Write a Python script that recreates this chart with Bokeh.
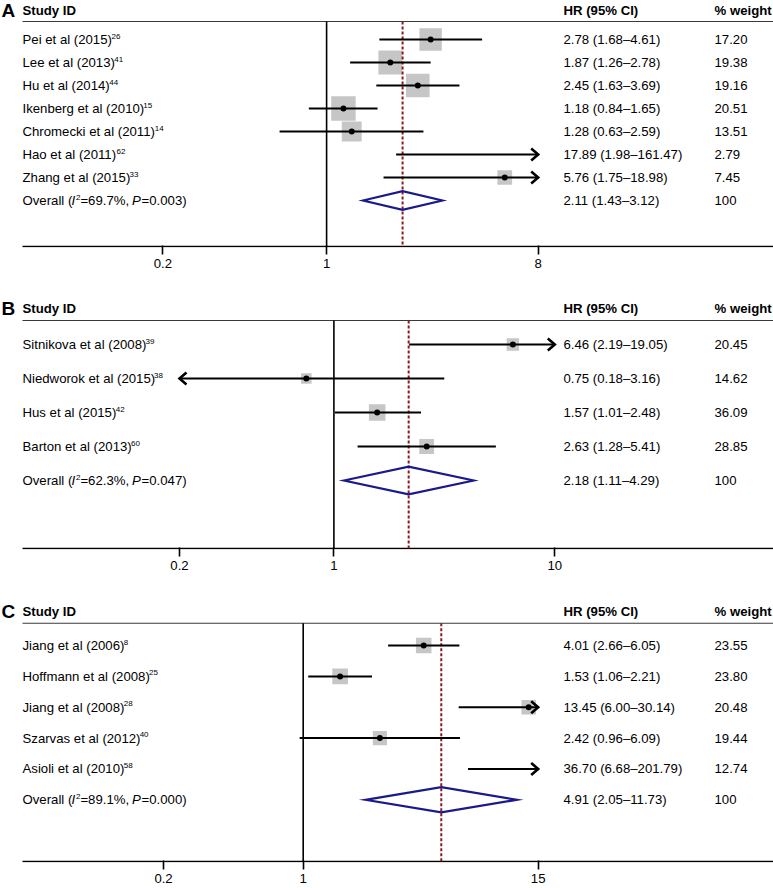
import math
from bokeh.plotting import figure
from bokeh.models import Range1d, FixedTicker, CustomJSTickFormatter
from bokeh.layouts import column
from bokeh.embed import file_html
from bokeh.resources import INLINE
from bokeh.core.properties import value

# ---------------- data ----------------
studies_a = ["Pei et al (2015)", "Lee et al (2013)", "Hu et al (2014)", "Ikenberg et al (2010)",
             "Chromecki et al (2011)", "Hao et al (2011)", "Zhang et al (2015)"]
refs_a = ["26", "41", "44", "15", "14", "62", "33"]
hr_a = [2.78, 1.87, 2.45, 1.18, 1.28, 17.89, 5.76]
lo_a = [1.68, 1.26, 1.63, 0.84, 0.63, 1.98, 1.75]
hi_a = [4.61, 2.78, 3.69, 1.65, 2.59, 161.47, 18.98]
weight_a = [17.20, 19.38, 19.16, 20.51, 13.51, 2.79, 7.45]
overall_a = [2.11, 1.43, 3.12]
i2_a, p_a = "69.7%", "0.003"
ticks_a = [0.2, 1, 8]

studies_b = ["Sitnikova  et al (2008)", "Niedworok et al (2015)", "Hus et al (2015)", "Barton et al (2013)"]
refs_b = ["39", "38", "42", "60"]
hr_b = [6.46, 0.75, 1.57, 2.63]
lo_b = [2.19, 0.18, 1.01, 1.28]
hi_b = [19.05, 3.16, 2.48, 5.41]
weight_b = [20.45, 14.62, 36.09, 28.85]
overall_b = [2.18, 1.11, 4.29]
i2_b, p_b = "62.3%", "0.047"
ticks_b = [0.2, 1, 10]

studies_c = ["Jiang et al (2006)", "Hoffmann et al (2008)", "Jiang et al (2008)", "Szarvas et al (2012)",
             "Asioli et al (2010)"]
refs_c = ["8", "25", "28", "40", "58"]
hr_c = [4.01, 1.53, 13.45, 2.42, 36.70]
lo_c = [2.66, 1.06, 6.00, 0.96, 6.68]
hi_c = [6.05, 2.21, 30.14, 6.09, 201.79]
weight_c = [23.55, 23.80, 20.48, 19.44, 12.74]
overall_c = [4.91, 2.05, 11.73]
i2_c, p_c = "89.1%", "0.000"
ticks_c = [0.2, 1, 15]

# ---------------- style / layout ----------------
FONT = value("Liberation Sans")
FS = 13.2
FSS = "13.2px"
BOX = "#c6c6c6"
RED = "#8b1a1a"
NAVY = "#1a1a8c"
W = 773

AW = {' ': 278, '(': 333, ')': 333, '%': 889, ',': 278, '.': 278, '=': 584, '\u2013': 556, '-': 333}
for ch in "0123456789":
    AW[ch] = 556
for ch, w in zip("ABCDEFGHIJKLMNOPQRSTUVWXYZ",
                 [667, 667, 722, 722, 667, 611, 778, 722, 278, 500, 667, 556, 833, 722, 778, 667, 778, 722,
                  667, 611, 722, 667, 944, 667, 667, 611]):
    AW[ch] = w
for ch, w in zip("abcdefghijklmnopqrstuvwxyz",
                 [556, 556, 500, 556, 556, 278, 556, 556, 222, 222, 500, 222, 833, 556, 556, 556, 556, 333,
                  500, 278, 556, 500, 722, 500, 500, 500]):
    AW[ch] = w


def tw(s, size):
    while "  " in s:
        s = s.replace("  ", " ")
    return sum(AW.get(c, 556) for c in s) * size / 1000.0 * 0.985


def panel(letter, names, refs, hr, lo, hi, wt, ov, i2, pv, ticks, cfg):
    n = len(names)
    p1, sc = cfg["p1"], cfg["sc"]

    def xv(px):
        return 10 ** ((px - p1) / sc)

    v_left, v_right = xv(0), xv(W)
    fig_h, border = cfg["h"], cfg["border"]
    frame_h = fig_h - border
    top_row = cfg["top_row"]
    axis_row = n + 3
    extra = 1.0
    px_row = (frame_h - extra) / (axis_row - top_row)
    bottom_row = axis_row + extra / px_row

    p = figure(width=W, height=fig_h, x_axis_type="log",
               x_range=Range1d(v_left, v_right), y_range=Range1d(bottom_row, top_row),
               output_backend="svg", toolbar_location=None, y_axis_location=None,
               min_border_left=0, min_border_right=0, min_border_top=0, min_border_bottom=border,
               outline_line_color=None, background_fill_color="white", border_fill_color="white")
    p.xgrid.visible = False
    p.ygrid.visible = False
    ax = p.xaxis[0]
    ax.ticker = FixedTicker(ticks=ticks, minor_ticks=[])
    ax.formatter = CustomJSTickFormatter(code="return String(tick);")
    ax.axis_line_color = None
    ax.major_tick_in = 2
    ax.major_tick_out = 7
    ax.major_tick_line_width = 1.6
    ax.major_tick_line_color = "black"
    ax.minor_tick_line_color = None
    ax.major_label_standoff = 4
    ax.major_label_text_font = "Liberation Sans"
    ax.major_label_text_font_size = FSS
    ax.major_label_text_color = "black"

    hl = cfg["header_line"]
    ht = cfg["header_text"]
    rows = list(range(1, n + 1))
    orow = n + 1
    xmin, xmax = ticks[0], ticks[-1]

    # header line and axis line
    p.segment(x0=[xv(22), xv(22)], y0=[hl, axis_row], x1=[v_right, v_right], y1=[hl, axis_row],
              line_color=["#3a3a3a", "black"], line_width=[1.2, 1.6])
    # null line
    p.segment(x0=[1], y0=[hl], x1=[1], y1=[axis_row], line_color="black", line_width=1.6)

    # boxes
    inr = [i for i in range(n) if xmin <= hr[i] <= xmax]
    p.scatter(x=[hr[i] for i in inr], y=[rows[i] for i in inr], marker="square",
              size=[cfg["box"] * math.sqrt(wt[i]) for i in inr],
              fill_color=BOX, line_color=None)

    # overall dashed line
    p.segment(x0=[ov[0]], y0=[hl], x1=[ov[0]], y1=[axis_row], line_color=RED, line_width=2,
              line_dash="3 2")

    # diamond
    h = 0.41
    p.patch(x=[ov[1], ov[0], ov[2], ov[0]], y=[orow, orow - h, orow, orow + h],
            fill_color=None, line_color=NAVY, line_width=2.2, line_join="miter")

    # CI lines
    los = [max(v, xmin) for v in lo]
    his = [min(v, xmax) for v in hi]
    p.segment(x0=los, y0=rows, x1=his, y1=rows, line_color="black", line_width=2)

    # arrow heads
    back = 7.0
    half = 6.0 / px_row
    xs, ys = [], []
    for i in range(n):
        if hi[i] > xmax:
            b = xmax / 10 ** (back / sc)
            xs.append([b, xmax, b])
            ys.append([rows[i] - half, rows[i], rows[i] + half])
        if lo[i] < xmin:
            b = xmin * 10 ** (back / sc)
            xs.append([b, xmin, b])
            ys.append([rows[i] - half, rows[i], rows[i] + half])
    if xs:
        p.multi_line(xs=xs, ys=ys, line_color="black", line_width=2.6, line_join="miter")

    # dots
    p.scatter(x=[hr[i] for i in inr], y=[rows[i] for i in inr], marker="circle", size=6,
              fill_color="black", line_color=None)

    # ---- texts ----
    tkw = dict(text_font=FONT, text_baseline="middle", text_align="left", text_color="black")
    p.text(x=[xv(1)], y=[ht], text=[letter], text_font_size="19px", text_font_style="bold", **tkw)
    p.text(x=[xv(22), xv(563), xv(714)], y=[ht, ht, ht], text=["Study ID", "HR (95% CI)", "% weight"],
           text_font_size=FSS, text_font_style="bold", **tkw)
    p.text(x=[xv(22)] * n, y=rows, text=names, text_font_size=FSS, **tkw)
    p.text(x=[xv(22)] * n, y=rows, text=refs, text_font_size="8px",
           x_offset=[tw(s, FS) + 0.8 for s in names], y_offset=-3.5, **tkw)
    hr_txt = [f"{hr[i]:.2f} ({lo[i]:.2f}\u2013{hi[i]:.2f})" for i in range(n)]
    hr_txt.append(f"{ov[0]:.2f} ({ov[1]:.2f}\u2013{ov[2]:.2f})")
    p.text(x=[xv(563)] * (n + 1), y=rows + [orow], text=hr_txt, text_font_size=FSS, **tkw)
    w_txt = [f"{w:.2f}" for w in wt] + ["100"]
    p.text(x=[xv(714)] * (n + 1), y=rows + [orow], text=w_txt, text_font_size=FSS, **tkw)

    # overall label with italic I, superscript 2, italic P
    pieces = [("Overall (", "normal", FS, 0), ("I", "italic", FS, 0), ("2", "normal", 8.0, -3.5),
              (f"={i2}, ", "normal", FS, 0), ("P", "italic", FS, 0), (f"={pv})", "normal", FS, 0)]
    off = 0.0
    for txt, style, size, dy in pieces:
        p.text(x=[xv(22)], y=[orow], text=[txt], text_font_size=f"{size}px", text_font_style=style,
               x_offset=off, y_offset=dy, **tkw)
        off += tw(txt, size) + (0.8 if style == "italic" else 0)
    return p


cfg_a = dict(p1=326.1, sc=234.3, h=285, border=38, top_row=1 - 39 / 23.0, header_line=0.217,
             header_text=-0.26, box=5.4)
cfg_b = dict(p1=333.4, sc=220.9, h=305, border=41, top_row=1 - 59 / 34.0, header_line=0.294,
             header_text=-0.06, box=2.75)
cfg_c = dict(p1=302.7, sc=199.8, h=298, border=26, top_row=1 - 55 / 30.8, header_line=0.276,
             header_text=-0.11, box=3.2)

pa = panel("A", studies_a, refs_a, hr_a, lo_a, hi_a, weight_a, overall_a, i2_a, p_a, ticks_a, cfg_a)
pb = panel("B", studies_b, refs_b, hr_b, lo_b, hi_b, weight_b, overall_b, i2_b, p_b, ticks_b, cfg_b)
pc = panel("C", studies_c, refs_c, hr_c, lo_c, hi_c, weight_c, overall_c, i2_c, p_c, ticks_c, cfg_c)

layout = column(pa, pb, pc, spacing=0)
open("out.html", "w").write(file_html(layout, INLINE))
